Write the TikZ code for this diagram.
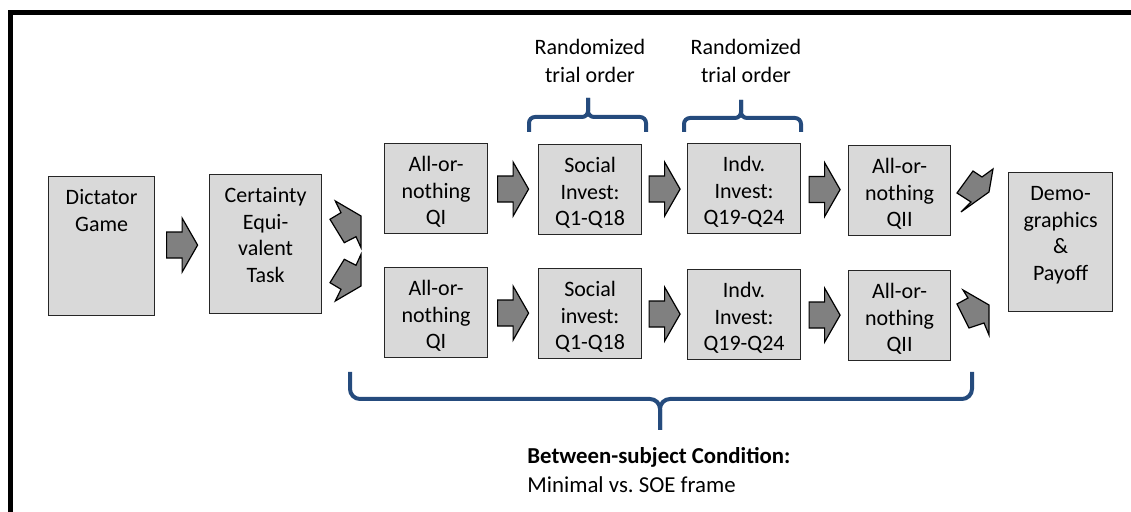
\documentclass[tikz,border=0pt]{standalone}
\usepackage{fontspec}
\setmainfont{Carlito}
\usetikzlibrary{calc}
\definecolor{boxgray}{RGB}{217,217,217}
\definecolor{arrowgray}{RGB}{128,128,128}
\definecolor{braceblue}{RGB}{37,75,125}

\begin{document}
\begin{tikzpicture}[x=0.5pt,y=-0.5pt,
	stage/.style={draw=black!85, line width=0.6pt, fill=boxgray, anchor=north west, align=center, inner sep=0pt, text height=14pt, font=\fontsize{11}{13.25}\selectfont},
	tall/.style={text depth=55.5pt},
	short/.style={text depth=31pt},
	fat/.style={draw=black, line width=0.6pt, fill=arrowgray},
	brace/.style={draw=braceblue, line width=2pt, rounded corners=3pt},
	note/.style={align=center, inner sep=0pt, font=\fontsize{11}{14}\selectfont},
	pics/fatarrow/.style={code={\path[fat] (-15.5,-13) -- (0,-13) -- (0,-27) -- (15.5,0) -- (0,27) -- (0,13) -- (-15.5,13) -- cycle;}}]
	\useasboundingbox (0,0) rectangle (1131,512);
	\draw[line width=2.5pt] (10.5,512) -- (10.5,12.5) -- (1131,12.5);

	\node[stage, tall, text width=53pt] at (48,176) (dict) {Dictator\\Game};
	\node[stage, tall, text width=56pt] at (209,174) (cert) {Certainty\\Equi-\\valent\\Task};

	\node[stage, short, text width=51.5pt] at (384,143) (qiA) {All-or-\\nothing\\QI};
	\node[stage, short, text width=51.5pt] at (538,144) (socA) {Social\\Invest:\\Q1-Q18};
	\node[stage, short, text width=56.5pt] at (687,143) (indA) {Indv.\\Invest:\\Q19-Q24};
	\node[stage, short, text width=51pt] at (848,145) (qiiA) {All-or-\\nothing\\QII};

	\node[stage, short, text width=51.5pt] at (384,267) (qiB) {All-or-\\nothing\\QI};
	\node[stage, short, text width=51.5pt] at (538,268) (socB) {Social\\invest:\\Q1-Q18};
	\node[stage, short, text width=56.5pt] at (687,269) (indB) {Indv.\\Invest:\\Q19-Q24};
	\node[stage, short, text width=51pt] at (848,270) (qiiB) {All-or-\\nothing\\QII};

	\node[stage, tall, text width=52pt] at (1008,172) (demo) {Demo-\\graphics\\\&\\Payoff};

	\pic at ($(dict.east)!0.5!(cert.west)$) {fatarrow};
	\pic at ($(qiA.east)!0.5!(socA.west)$) {fatarrow};
	\pic at ($(socA.east)!0.5!(indA.west)$) {fatarrow};
	\pic at ($(indA.east)!0.5!(qiiA.west)$) {fatarrow};
	\pic at ($(qiB.east)!0.5!(socB.west)$) {fatarrow};
	\pic at ($(socB.east)!0.5!(indB.west)$) {fatarrow};
	\pic at ($(indB.east)!0.5!(qiiB.west)$) {fatarrow};

	\path[fat] (335.3,201) -- (361,216) -- (361,247.7) -- (356,236.7) -- (344.3,242.7) -- (330,219.3) -- (341,212.7) -- cycle;
	\path[fat] (361,254.3) -- (361,286) -- (335.3,301) -- (341,289.3) -- (330,282.7) -- (344.3,259.3) -- (356,265.3) -- cycle;
	\path[fat] (993,169) -- (989,192) -- (961,212) -- (971,202) -- (957,193) -- (973,171) -- (982,177) -- cycle;
	\path[fat] (963,290) -- (989,305) -- (989,335) -- (984,323) -- (969,328) -- (957,304) -- (968,298) -- cycle;

	\coordinate (tip1) at (588,98);
	\coordinate (tip2) at (741,100);
	\coordinate (tip3) at (660,430);
	\draw[brace] (529,132) -- (529,117) -- (588,117) -- (tip1);
	\draw[brace] (tip1) -- (588,117) -- (646,117) -- (646,132);
	\draw[brace] (684,132) -- (684,118) -- (741,118) -- (tip2);
	\draw[brace] (tip2) -- (741,118) -- (801,118) -- (801,132);
	\draw[brace, rounded corners=5pt] (350,372) -- (350,399) -- (660,399) -- (tip3);
	\draw[brace, rounded corners=5pt] (tip3) -- (660,399) -- (972,399) -- (972,372);

	\node[note] at (590,61) (rand1) {Randomized\\trial order};
	\node[note] at (746,61) (rand2) {Randomized\\trial order};
	\node[note, align=left, anchor=west, font=\fontsize{11.4}{14.5}\selectfont] at (527,470) (cond) {\textbf{Between-subject Condition:}\\Minimal vs.\ SOE frame};
\end{tikzpicture}
\end{document}
